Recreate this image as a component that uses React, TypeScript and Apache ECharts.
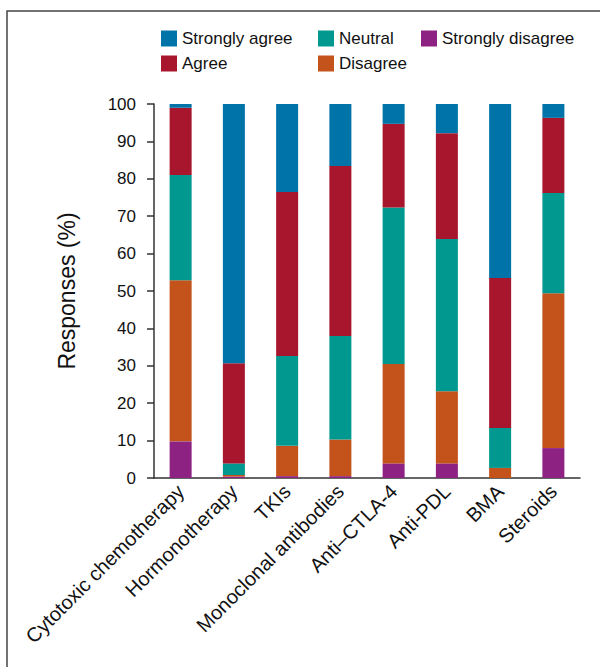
import React, { useEffect, useRef } from "react";
import * as echarts from "echarts";

const categories = [
  "Cytotoxic chemotherapy",
  "Hormonotherapy",
  "TKIs",
  "Monoclonal antibodies",
  "Anti–CTLA-4",
  "Anti-PDL",
  "BMA",
  "Steroids",
];
const stronglyDisagree = [9.8, 0.4, 0.5, 0.5, 3.9, 3.9, 0, 8.0];
const disagree = [43.1, 0.4, 8.1, 9.8, 26.6, 19.3, 2.7, 41.4];
const neutral = [28.1, 3.1, 24.0, 27.7, 41.8, 40.7, 10.7, 26.8];
const agree = [18.0, 26.8, 43.9, 45.4, 22.4, 28.3, 40.1, 20.1];
const stronglyAgree = [1.0, 69.3, 23.5, 16.6, 5.3, 7.8, 46.5, 3.7];
const yTicks = [0, 10, 20, 30, 40, 50, 60, 70, 80, 90, 100];

const colors = {
  "Strongly agree": "#0074a8",
  Agree: "#a8162e",
  Neutral: "#00988f",
  Disagree: "#c3531a",
  "Strongly disagree": "#8d2283",
};

const FONT = "Liberation Sans, Arial, Helvetica, sans-serif";

export default function App() {
  const ref = useRef<HTMLDivElement>(null);
  useEffect(() => {
    if (!ref.current) return;
    const chart = echarts.init(ref.current, null, { renderer: "svg" });
    const mk = (name: string, data: number[]) => ({
      name,
      type: "bar",
      stack: "total",
      data,
      barWidth: 22,
      itemStyle: { color: (colors as any)[name] },
    });
    const legendBase = {
      orient: "vertical",
      icon: "rect",
      itemWidth: 16,
      itemHeight: 16,
      itemGap: 8,
      top: 30,
      selectedMode: false,
      textStyle: { fontSize: 17, color: "#111", fontFamily: FONT, padding: [0, 0, 0, 0] },
      padding: 0,
    };
    chart.setOption({
      animation: false,
      textStyle: { fontFamily: FONT },
      color: Object.values(colors),
      graphic: [
        {
          type: "rect",
          shape: { x: 7, y: 11, width: 800, height: 800 },
          style: { fill: "none", stroke: "#444", lineWidth: 1.5 },
          silent: true,
        },
      ],
      legend: [
        { ...legendBase, left: 161, data: ["Strongly agree", "Agree"] },
        { ...legendBase, left: 318, data: ["Neutral", "Disagree"] },
        { ...legendBase, left: 421, data: ["Strongly disagree"] },
      ],
      grid: { left: 154, right: 20, top: 104, bottom: 189 },
      xAxis: {
        type: "category",
        data: categories,
        axisLine: { lineStyle: { color: "#333", width: 1.5 } },
        axisTick: { length: 7, lineStyle: { color: "#333", width: 1.5 } },
        axisLabel: {
          rotate: 45,
          fontSize: 20,
          color: "#111",
          margin: 10,
          interval: 0,
          fontFamily: FONT,
        },
      },
      yAxis: {
        type: "value",
        min: 0,
        max: 100,
        interval: 10,
        name: "Responses (%)",
        nameLocation: "middle",
        nameGap: 76,
        nameRotate: 90,
        nameTextStyle: { fontSize: 23, color: "#111", fontFamily: FONT },
        splitLine: { show: false },
        axisLine: { show: true, lineStyle: { color: "#333", width: 1.5 } },
        axisTick: { show: true, length: 7, lineStyle: { color: "#333", width: 1.5 } },
        axisLabel: {
          fontSize: 17,
          color: "#111",
          margin: 18,
          fontFamily: FONT,
          formatter: (v: number) => (yTicks.includes(v) ? String(v) : ""),
        },
      },
      series: [
        mk("Strongly disagree", stronglyDisagree),
        mk("Disagree", disagree),
        mk("Neutral", neutral),
        mk("Agree", agree),
        mk("Strongly agree", stronglyAgree),
      ],
    });
    return () => chart.dispose();
  }, []);
  return (
    <div
      ref={ref}
      style={{ position: "fixed", left: 0, top: 0, width: 600, height: 667, background: "#fff" }}
    />
  );
}
